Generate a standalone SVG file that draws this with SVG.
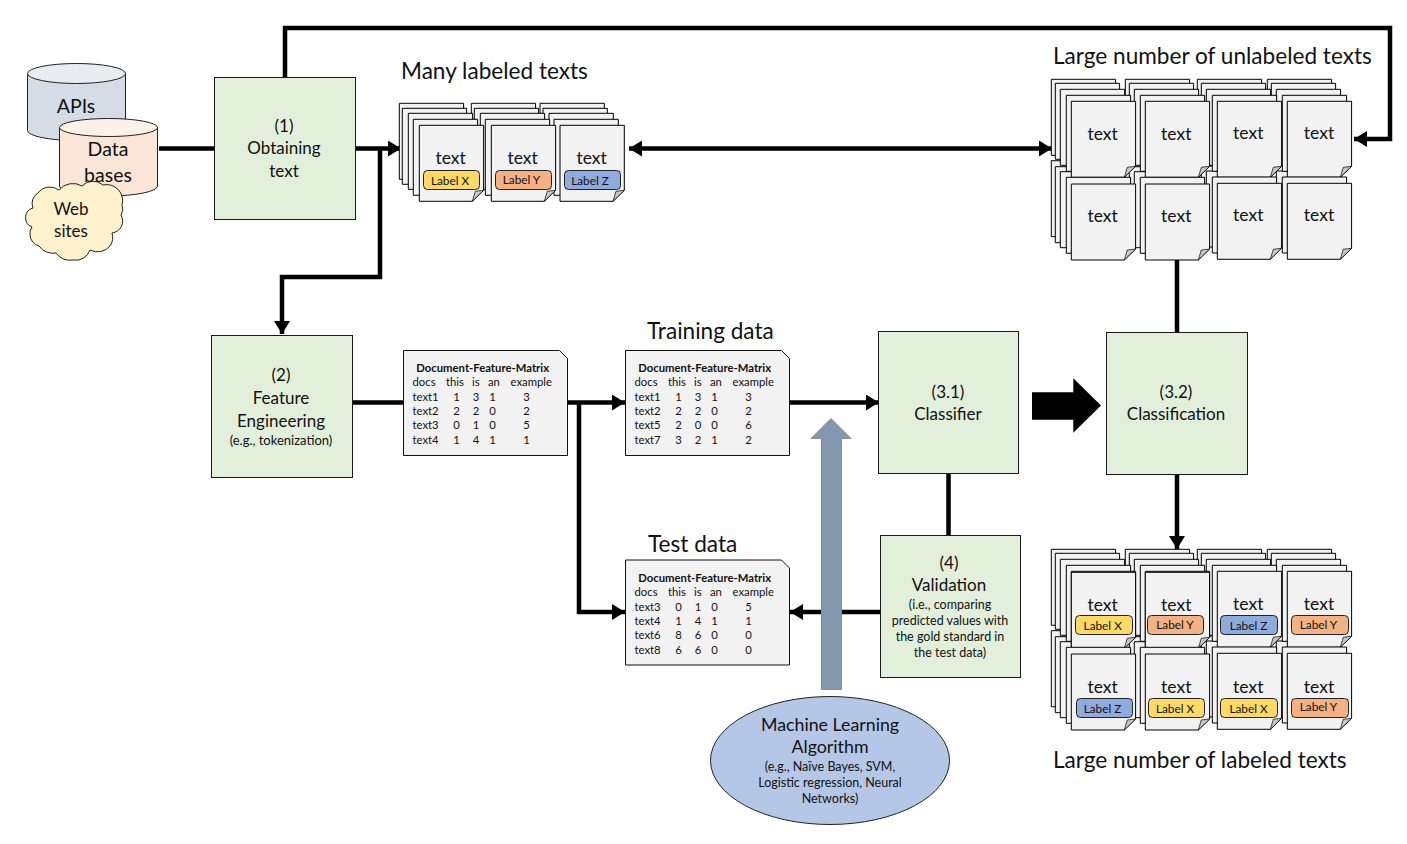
<svg xmlns="http://www.w3.org/2000/svg" width="1407" height="844" viewBox="0 0 1407 844">
<style>
text{font-family:"Lato","Liberation Sans",sans-serif;fill:#111;text-anchor:middle}
.h{font-size:22.6px;text-anchor:start}
.b{font-size:17px}
.mlt{font-size:17.8px}
.s{font-size:12.5px}
.t{font-size:17.5px}
.l{font-size:11.8px}
.m{font-size:11.3px}
.ms{text-anchor:start}
.mb{font-weight:700}
.box{fill:#e2efda;stroke:#1a1a1a;stroke-width:1}
.doc{fill:#f2f2f2;stroke:#111;stroke-width:1}
.pg{fill:#f2f2f2;stroke:#000;stroke-width:1}
.fold{fill:#c8c8c8;stroke:#000;stroke-width:.7}
.lab{stroke:#222;stroke-width:1}
.X{fill:#ffd966}.Y{fill:#f4b183}.Z{fill:#8faadc}
.c{fill:none;stroke:#000;stroke-width:4.5}
</style>
<defs>
<g id="p">
<path class="pg" d="M0 0H64.3V65L53 76H0Z"/>
<path class="fold" d="M53 76L56 66L64.3 65Z"/>
</g>
<g id="lay3"><use href="#p" x="0" y="0"/><use href="#p" x="4" y="4"/><use href="#p" x="9" y="10"/></g>
<g id="layb"><use href="#p" x="0" y="0"/><use href="#p" x="4" y="6"/><use href="#p" x="9" y="11"/></g>
<g id="stk"><use href="#lay3"/><use href="#p" x="15" y="16"/><use href="#p" x="20" y="22"/></g>
<g id="stkl"><use href="#p" x="0" y="0"/><use href="#p" x="3" y="5"/><use href="#p" x="9" y="10"/><use href="#p" x="14" y="16"/><use href="#p" x="20" y="22"/></g>
<marker id="a" markerUnits="userSpaceOnUse" markerWidth="14" markerHeight="16" refX="13" refY="8" orient="auto-start-reverse"><path d="M0 0L13 8L0 16Z" fill="#000"/></marker>
</defs>

<g id="connectors">
<path class="c" d="M159 148.5H214"/>
<path class="c" d="M355 148.5H401" marker-end="url(#a)"/>
<path class="c" d="M380 148.5V277H282V334" marker-end="url(#a)"/>
<path class="c" d="M285 78V28H1390V139H1354" marker-end="url(#a)"/>
<path class="c" d="M629 148.5H1052" marker-start="url(#a)" marker-end="url(#a)"/>
<path class="c" d="M353 402.5H404"/>
<path class="c" d="M568 402.5H625" marker-end="url(#a)"/>
<path class="c" d="M579 402.5V612H625" marker-end="url(#a)"/>
<path class="c" d="M790 402.5H879" marker-end="url(#a)"/>
<path class="c" d="M948.5 473V536"/>
<path class="c" d="M881 612H790" marker-end="url(#a)"/>
<path class="c" d="M1177 259V333"/>
<path class="c" d="M1177 474V549" marker-end="url(#a)"/>
</g>

<g id="apis">
<path d="M27.5 73.5V130.5A49 10 0 0 0 125.5 130.5V73.5Z" fill="#d6dce5" stroke="#222"/>
<ellipse cx="76.5" cy="73.5" rx="49" ry="10" fill="#e9ecf1" stroke="#222"/>
<text x="76" y="113" style="font-size:19.5px">APIs</text>
</g>
<g id="databases">
<path d="M59.5 127.5V186A49 10 0 0 0 157.5 186V127.5Z" fill="#fbe5d6" stroke="#222"/>
<ellipse cx="108.5" cy="127.5" rx="49" ry="9" fill="#fdf2ea" stroke="#222"/>
<text x="108" y="156" style="font-size:19.5px">Data</text>
</g>
<g id="websites">
<path d="M33 208A12 12 0 0 1 38 193A15 15 0 0 1 59 190A18 18 0 0 1 82 186A15 15 0 0 1 103 185A16 16 0 0 1 122 205A11 11 0 0 1 121 215A12 12 0 0 1 112 233A15 15 0 0 1 110 246A16 16 0 0 1 90 250A15 15 0 0 1 73 260A17 17 0 0 1 56 253A17 17 0 0 1 39 246A12 12 0 0 1 30 235A11 11 0 0 1 32 227A10 10 0 0 1 33 208Z" fill="#fff2cc" stroke="#222"/>
<text x="71" y="215" style="font-size:17px">Web</text>
<text x="71" y="237" style="font-size:17px">sites</text>
</g>
<text x="108" y="182" style="font-size:19.5px">bases</text>

<g id="node1"><rect class="box" x="214.5" y="77.5" width="141" height="142"/>
<text class="b" x="284" y="132">(1)</text><text class="b" x="284" y="154">Obtaining</text><text class="b" x="284" y="177">text</text></g>
<g id="node2"><rect class="box" x="211.5" y="335.5" width="141" height="142"/>
<text class="b" x="281" y="381">(2)</text><text class="b" x="281" y="404">Feature</text><text class="b" x="281" y="427">Engineering</text><text style="font-size:13px" x="281" y="445">(e.g., tokenization)</text></g>
<g id="node31"><rect class="box" x="878.5" y="331.5" width="140" height="142"/>
<text class="b" x="948" y="398">(3.1)</text><text class="b" x="948" y="420">Classifier</text></g>
<g id="node32"><rect class="box" x="1106.5" y="332.5" width="141" height="142"/>
<text class="b" x="1176" y="398">(3.2)</text><text class="b" x="1176" y="420">Classification</text></g>
<g id="node4"><rect class="box" x="880.5" y="535.5" width="140" height="142"/>
<text class="b" x="949" y="569">(4)</text><text class="b" x="949" y="591">Validation</text>
<text class="s" x="950" y="609">(i.e., comparing</text><text class="s" x="950" y="625">predicted values with</text><text class="s" x="950" y="641">the gold standard in</text><text class="s" x="950" y="657">the test data)</text></g>

<g id="big-arrow"><path d="M1032 392.3H1073.3V378.3L1101 405.5L1073.3 432.7V419.7H1032Z" fill="#000"/></g>

<g id="ml-arrow"><path d="M821.5 689.5V438.5H811L831 418.5L851 438.5H841.5V689.5Z" fill="#8497b0" stroke="#8c8c8c"/></g>
<g id="ml"><ellipse cx="830" cy="760.5" rx="119.5" ry="64" fill="#b4c7e7" stroke="#222"/>
<text class="mlt" x="830" y="731">Machine Learning</text><text class="mlt" x="830" y="753">Algorithm</text>
<text class="s" x="830" y="771">(e.g., Naïve Bayes, SVM,</text><text class="s" x="830" y="787">Logistic regression, Neural</text><text class="s" x="830" y="803">Networks)</text></g>

<text class="h" x="401" y="79">Many labeled texts</text>
<text class="h" x="1053" y="64">Large number of unlabeled texts</text>
<text class="h" x="647" y="339">Training data</text>
<text class="h" x="648" y="552">Test data</text>
<text class="h" x="1053" y="768">Large number of labeled texts</text>

<g id="labeled-texts">
<use href="#stkl" x="540" y="103.3"/><use href="#stkl" x="471.3" y="103.3"/><use href="#stkl" x="399.3" y="103.3"/>
<text class="t" x="450.7" y="164">text</text><text class="t" x="522.7" y="164">text</text><text class="t" x="591.7" y="164">text</text>
<rect class="lab X" x="423.5" y="170.5" width="56" height="19" rx="4"/><rect class="lab Y" x="495.5" y="170.5" width="56" height="19" rx="4"/><rect class="lab Z" x="564.5" y="170.5" width="56" height="19" rx="4"/>
<text class="l" x="450" y="185">Label X</text><text class="l" x="521.5" y="184">Label Y</text><text class="l" x="590" y="185">Label Z</text>
</g>

<g id="unlabeled-texts">
<use href="#layb" x="1267.3" y="160"/><use href="#layb" x="1197.3" y="160"/><use href="#layb" x="1125.3" y="160.7"/><use href="#layb" x="1051.3" y="160.7"/>
<use href="#stk" x="1267.3" y="79.3"/><use href="#stk" x="1197.3" y="79.3"/><use href="#stk" x="1125.3" y="79.3"/><use href="#stk" x="1051.3" y="79.3"/>
<use href="#p" x="1282.3" y="177"/><use href="#p" x="1287.3" y="183.3"/>
<use href="#p" x="1212.3" y="177"/><use href="#p" x="1217.3" y="183.3"/>
<use href="#p" x="1140.3" y="177.3"/><use href="#p" x="1145.3" y="184"/>
<use href="#p" x="1066.3" y="177.3"/><use href="#p" x="1071.3" y="184"/>
<text class="t" x="1102.7" y="139.5">text</text><text class="t" x="1176.3" y="139.5">text</text><text class="t" x="1248.3" y="139">text</text><text class="t" x="1319" y="139">text</text>
<text class="t" x="1102.7" y="222">text</text><text class="t" x="1176.3" y="222">text</text><text class="t" x="1248.3" y="221">text</text><text class="t" x="1319" y="221">text</text>
</g>

<g id="labeled-output">
<use href="#layb" x="1267.3" y="630"/><use href="#layb" x="1197.3" y="630"/><use href="#layb" x="1125.3" y="630.7"/><use href="#layb" x="1051.3" y="630.7"/>
<use href="#stk" x="1267.3" y="549.3"/><use href="#stk" x="1197.3" y="549.3"/><use href="#stk" x="1125.3" y="549.3"/><use href="#p" x="1145.3" y="572.3"/><use href="#stk" x="1051.3" y="549.3"/><use href="#p" x="1071.3" y="572.3"/>
<use href="#p" x="1282.3" y="647"/><use href="#p" x="1287.3" y="653.3"/>
<use href="#p" x="1212.3" y="647"/><use href="#p" x="1217.3" y="653.3"/>
<use href="#p" x="1140.3" y="647.3"/><use href="#p" x="1145.3" y="654"/>
<use href="#p" x="1066.3" y="647.3"/><use href="#p" x="1071.3" y="654"/>
<text class="t" x="1102.7" y="611">text</text><text class="t" x="1176.3" y="611">text</text><text class="t" x="1248.3" y="610">text</text><text class="t" x="1319" y="610">text</text>
<text class="t" x="1102.7" y="692.5">text</text><text class="t" x="1176.3" y="692.5">text</text><text class="t" x="1248.3" y="692.5">text</text><text class="t" x="1319" y="692.5">text</text>
<rect class="lab X" x="1075.5" y="615.5" width="57" height="19" rx="4"/><rect class="lab Y" x="1147.5" y="615.5" width="56" height="19" rx="4"/><rect class="lab Z" x="1220.5" y="615.5" width="57" height="19" rx="4"/><rect class="lab Y" x="1291.5" y="615.5" width="57" height="19" rx="4"/>
<rect class="lab Z" x="1076.5" y="698.5" width="56" height="19" rx="4"/><rect class="lab X" x="1148.5" y="698.5" width="56" height="19" rx="4"/><rect class="lab X" x="1220.5" y="698.5" width="57" height="19" rx="4"/><rect class="lab Y" x="1291.5" y="698.5" width="57" height="19" rx="4"/>
<text class="l" x="1102.7" y="630">Label X</text><text class="l" x="1175" y="629">Label Y</text><text class="l" x="1248.5" y="630">Label Z</text><text class="l" x="1318.5" y="629">Label Y</text>
<text class="l" x="1102.5" y="713">Label Z</text><text class="l" x="1175" y="713">Label X</text><text class="l" x="1248.5" y="713">Label X</text><text class="l" x="1318.5" y="711">Label Y</text>
</g>

<g id="matrix-all">
<path class="doc" d="M403.5 350.5H559.5L567.5 358.5V455.5H403.5Z"/>
<text class="m mb" x="482.7" y="372">Document-Feature-Matrix</text>
<text class="m ms" x="412.5" y="386">docs</text><text class="m ms" x="446" y="386">this</text><text class="m ms" x="472" y="386">is</text><text class="m ms" x="488" y="386">an</text><text class="m ms" x="510.5" y="386">example</text>
<text class="m ms" x="412.5" y="401">text1</text><text class="m" x="456.5" y="401">1</text><text class="m" x="476" y="401">3</text><text class="m" x="492.5" y="401">1</text><text class="m" x="526.5" y="401">3</text>
<text class="m ms" x="412.5" y="415">text2</text><text class="m" x="456.5" y="415">2</text><text class="m" x="476" y="415">2</text><text class="m" x="492.5" y="415">0</text><text class="m" x="526.5" y="415">2</text>
<text class="m ms" x="412.5" y="429">text3</text><text class="m" x="456.5" y="429">0</text><text class="m" x="476" y="429">1</text><text class="m" x="492.5" y="429">0</text><text class="m" x="526.5" y="429">5</text>
<text class="m ms" x="412.5" y="444">text4</text><text class="m" x="456.5" y="444">1</text><text class="m" x="476" y="444">4</text><text class="m" x="492.5" y="444">1</text><text class="m" x="526.5" y="444">1</text>
</g>
<g id="matrix-train" transform="translate(222 0)">
<path class="doc" d="M403.5 350.5H559.5L567.5 358.5V455.5H403.5Z"/>
<text class="m mb" x="482.7" y="372">Document-Feature-Matrix</text>
<text class="m ms" x="412.5" y="386">docs</text><text class="m ms" x="446" y="386">this</text><text class="m ms" x="472" y="386">is</text><text class="m ms" x="488" y="386">an</text><text class="m ms" x="510.5" y="386">example</text>
<text class="m ms" x="412.5" y="401">text1</text><text class="m" x="456.5" y="401">1</text><text class="m" x="476" y="401">3</text><text class="m" x="492.5" y="401">1</text><text class="m" x="526.5" y="401">3</text>
<text class="m ms" x="412.5" y="415">text2</text><text class="m" x="456.5" y="415">2</text><text class="m" x="476" y="415">2</text><text class="m" x="492.5" y="415">0</text><text class="m" x="526.5" y="415">2</text>
<text class="m ms" x="412.5" y="429">text5</text><text class="m" x="456.5" y="429">2</text><text class="m" x="476" y="429">0</text><text class="m" x="492.5" y="429">0</text><text class="m" x="526.5" y="429">6</text>
<text class="m ms" x="412.5" y="444">text7</text><text class="m" x="456.5" y="444">3</text><text class="m" x="476" y="444">2</text><text class="m" x="492.5" y="444">1</text><text class="m" x="526.5" y="444">2</text>
</g>
<g id="matrix-test" transform="translate(222 209.5)">
<path class="doc" d="M403.5 350.5H559.5L567.5 358.5V455.5H403.5Z"/>
<text class="m mb" x="482.7" y="372">Document-Feature-Matrix</text>
<text class="m ms" x="412.5" y="386">docs</text><text class="m ms" x="446" y="386">this</text><text class="m ms" x="472" y="386">is</text><text class="m ms" x="488" y="386">an</text><text class="m ms" x="510.5" y="386">example</text>
<text class="m ms" x="412.5" y="401">text3</text><text class="m" x="456.5" y="401">0</text><text class="m" x="476" y="401">1</text><text class="m" x="492.5" y="401">0</text><text class="m" x="526.5" y="401">5</text>
<text class="m ms" x="412.5" y="415">text4</text><text class="m" x="456.5" y="415">1</text><text class="m" x="476" y="415">4</text><text class="m" x="492.5" y="415">1</text><text class="m" x="526.5" y="415">1</text>
<text class="m ms" x="412.5" y="429">text6</text><text class="m" x="456.5" y="429">8</text><text class="m" x="476" y="429">6</text><text class="m" x="492.5" y="429">0</text><text class="m" x="526.5" y="429">0</text>
<text class="m ms" x="412.5" y="444">text8</text><text class="m" x="456.5" y="444">6</text><text class="m" x="476" y="444">6</text><text class="m" x="492.5" y="444">0</text><text class="m" x="526.5" y="444">0</text>
</g>
</svg>
